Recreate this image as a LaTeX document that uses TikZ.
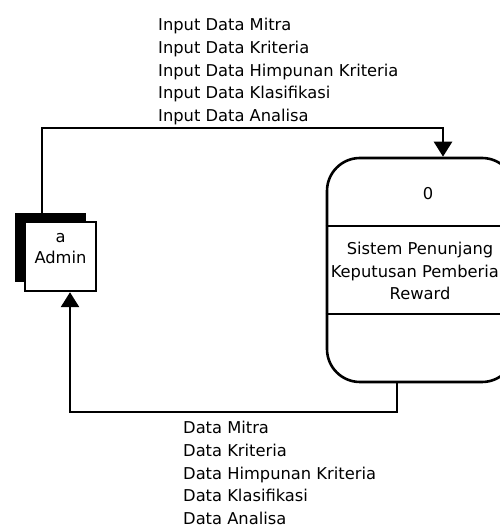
\documentclass[tikz,border=0pt]{standalone}
\usepackage{fontspec}
\setmainfont{DejaVu Sans}
\usetikzlibrary{arrows.meta,shadows}
\begin{document}
\begin{tikzpicture}[x=1pt,y=1pt,
  lbl/.style={font=\fontsize{16.3}{22.8}\selectfont, inner sep=0pt, align=left},
  flow/.style={line width=2.6pt, -{Triangle[length=15pt,width=18pt]}},
  procbox/.style={draw, line width=2.6pt, rounded corners=33pt, minimum width=188pt, minimum height=224pt, inner sep=0pt},
  entbox/.style={draw, line width=2.4pt, fill=white, minimum width=71pt, minimum height=69pt, inner sep=0pt,
    general shadow={fill=black, shadow xshift=-10pt, shadow yshift=9pt}},
  txt/.style={font=\fontsize{16.3}{23}\selectfont, inner sep=0pt, align=center}]
\useasboundingbox (0,0) rectangle (500,525);
\clip (0,0) rectangle (500,525);
% process
\node[procbox] (proc) at (421,255) {};
\draw[line width=2.6pt] (proc.west |- 0,299) -- (proc.east |- 0,299);
\draw[line width=2.6pt] (proc.west |- 0,211) -- (proc.east |- 0,211);
\node[txt, anchor=base] (pid) at (428,325) {0};
\node[txt, anchor=base] (p1) at (420,270) {Sistem Penunjang};
\node[txt, anchor=base] (p2) at (420,247) {Keputusan Pemberian};
\node[txt, anchor=base] (p3) at (420,225) {Reward};
% entity
\node[entbox] (admin) at (60.5,268.5) {};
\node[txt, anchor=base] (a1) at (60.5,282) {a};
\node[txt, anchor=base] (a2) at (60.5,261) {Admin};
% connectors
\coordinate (t1) at (42,397);
\coordinate (t2) at (443,397);
\draw[flow] (admin.north -| t1) -- (t1) -- (t2) -- (t2 |- proc.north);
\coordinate (b1) at (397,113);
\coordinate (b2) at (70,113);
\draw[flow] (proc.south -| b1) -- (b1) -- (b2) -- (b2 |- admin.south);
% labels
\node[lbl, anchor=north west] (top) at (158,507) {Input Data Mitra\\Input Data Kriteria\\Input Data Himpunan Kriteria\\Input Data Klasifikasi\\Input Data Analisa};
\node[lbl, anchor=north west] (bot) at (183,104) {Data Mitra\\Data Kriteria\\Data Himpunan Kriteria\\Data Klasifikasi\\Data Analisa};
\end{tikzpicture}
\end{document}
